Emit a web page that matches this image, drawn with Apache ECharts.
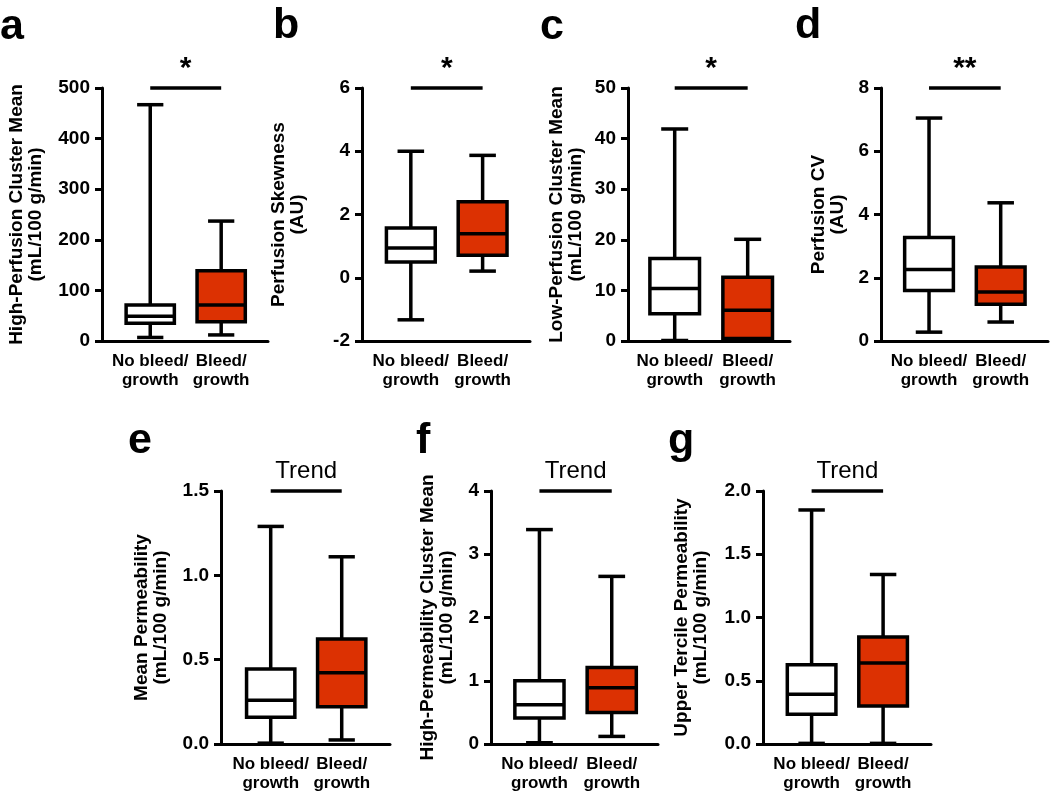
<!DOCTYPE html>
<html>
<head>
<meta charset="utf-8">
<script src="https://cdn.jsdelivr.net/npm/echarts@6/dist/echarts.min.js"></script>
<style>
  html, body { margin: 0; padding: 0; background: #fff; }
  #chart { width: 1050px; height: 794px; }
</style>
</head>
<body>
<div id="chart"></div>
<script>
// categories (x axis)
var groups = ["No bleed/\ngrowth", "Bleed/\ngrowth"];

// box stats: [min, q1, median, q3, max]
var highPerfNoBleed = [7, 35, 49, 71, 467];
var highPerfBleed = [12, 38, 71, 139, 237];
var skewNoBleed = [-1.33, 0.5, 0.94, 1.57, 4.0];
var skewBleed = [0.21, 0.71, 1.39, 2.4, 3.87];
var lowPerfNoBleed = [0.1, 5.4, 10.4, 16.3, 41.9];
var lowPerfBleed = [0.2, 0.5, 6.1, 12.6, 20.1];
var cvNoBleed = [0.28, 1.6, 2.26, 3.27, 7.05];
var cvBleed = [0.6, 1.16, 1.55, 2.34, 4.37];
var meanPermNoBleed = [0.005, 0.158, 0.26, 0.445, 1.29];
var meanPermBleed = [0.024, 0.221, 0.423, 0.623, 1.11];
var highPermNoBleed = [0.02, 0.41, 0.62, 1.0, 3.39];
var highPermBleed = [0.12, 0.5, 0.89, 1.21, 2.65];
var tercileNoBleed = [0.005, 0.235, 0.394, 0.626, 1.85];
var tercileBleed = [0.005, 0.3, 0.64, 0.846, 1.34];

// panel info
var panels = [
  { letter: "a", title: "High-Perfusion Cluster Mean\n(mL/100 g/min)", stats: [highPerfNoBleed, highPerfBleed], yMin: 0, yMax: 500, step: 100, digits: 0, sig: "*" },
  { letter: "b", title: "Perfusion Skewness\n(AU)", stats: [skewNoBleed, skewBleed], yMin: -2, yMax: 6, step: 2, digits: 0, sig: "*" },
  { letter: "c", title: "Low-Perfusion Cluster Mean\n(mL/100 g/min)", stats: [lowPerfNoBleed, lowPerfBleed], yMin: 0, yMax: 50, step: 10, digits: 0, sig: "*" },
  { letter: "d", title: "Perfusion CV\n(AU)", stats: [cvNoBleed, cvBleed], yMin: 0, yMax: 8, step: 2, digits: 0, sig: "**" },
  { letter: "e", title: "Mean Permeability\n(mL/100 g/min)", stats: [meanPermNoBleed, meanPermBleed], yMin: 0, yMax: 1.5, step: 0.5, digits: 1, sig: "Trend" },
  { letter: "f", title: "High-Permeability Cluster Mean\n(mL/100 g/min)", stats: [highPermNoBleed, highPermBleed], yMin: 0, yMax: 4, step: 1, digits: 0, sig: "Trend" },
  { letter: "g", title: "Upper Tercile Permeability\n(mL/100 g/min)", stats: [tercileNoBleed, tercileBleed], yMin: 0, yMax: 2.0, step: 0.5, digits: 1, sig: "Trend" }
];

// layout (px) and x-range of each panel
var gridPos = [
  { left: 102, top: 88, width: 166, height: 253, gap: 57, xMin: -0.68, xMax: 1.66 },
  { left: 362, top: 88, width: 168, height: 253, gap: 55, xMin: -0.68, xMax: 1.66 },
  { left: 628, top: 88, width: 162, height: 253, gap: 43, xMin: -0.64, xMax: 1.58 },
  { left: 881, top: 88, width: 167, height: 253, gap: 34, xMin: -0.67, xMax: 1.66 },
  { left: 221, top: 491, width: 169, height: 253, gap: 51, xMin: -0.70, xMax: 1.68 },
  { left: 491, top: 491, width: 167, height: 253, gap: 35, xMin: -0.67, xMax: 1.64 },
  { left: 763, top: 491, width: 168, height: 253, gap: 53, xMin: -0.68, xMax: 1.67 }
];
var letterPos = [
  { left: 0, top: 6 }, { left: 273, top: 5 }, { left: 540, top: 6 }, { left: 795, top: 5 },
  { left: 128, top: 420 }, { left: 416, top: 420 }, { left: 668, top: 420 }
];

var FONT = "'Liberation Sans', Arial, Helvetica, sans-serif";
var fills = ["#ffffff", "#dc3102"];

function renderBox(params, api) {
  var x = api.value(0);
  var pMin = api.coord([x, api.value(1)]);
  var pQ1 = api.coord([x, api.value(2)]);
  var pMed = api.coord([x, api.value(3)]);
  var pQ3 = api.coord([x, api.value(4)]);
  var pMax = api.coord([x, api.value(5)]);
  var boxW = api.size([0.68, 0])[0];
  var capW = api.size([0.37, 0])[0];
  var cx = pMed[0];
  var lw = 3.5;
  var line = function (x1, y1, x2, y2) {
    return { type: "line", shape: { x1: x1, y1: y1, x2: x2, y2: y2 }, style: { stroke: "#000", lineWidth: lw } };
  };
  return {
    type: "group",
    children: [
      line(cx, pMin[1], cx, pQ1[1]),
      line(cx, pQ3[1], cx, pMax[1]),
      line(cx - capW / 2, pMin[1], cx + capW / 2, pMin[1]),
      line(cx - capW / 2, pMax[1], cx + capW / 2, pMax[1]),
      {
        type: "rect",
        shape: { x: cx - boxW / 2, y: pQ3[1], width: boxW, height: pQ1[1] - pQ3[1] },
        style: { fill: fills[params.dataIndex], stroke: "#000", lineWidth: lw }
      },
      line(cx - boxW / 2, pMed[1], cx + boxW / 2, pMed[1])
    ]
  };
}

var grids = [], xAxes = [], yAxes = [], series = [], titles = [];
panels.forEach(function (p, i) {
  var g = gridPos[i];
  grids.push({ left: g.left, top: g.top, width: g.width, height: g.height, containLabel: false });
  xAxes.push({
    type: "value", gridIndex: i, min: g.xMin, max: g.xMax,
    axisLine: { show: true, onZero: false, lineStyle: { color: "#000", width: 3 } },
    axisTick: { show: false },
    splitLine: { show: false },
    axisLabel: {
      customValues: [0, 1],
      hideOverlap: false,
      formatter: function (v) { return groups[Math.round(v)]; },
      color: "#000", fontFamily: FONT, fontWeight: "bold", fontSize: 17, lineHeight: 19, margin: 11
    }
  });
  yAxes.push({
    type: "value", gridIndex: i, min: p.yMin, max: p.yMax, interval: p.step,
    name: p.title, nameLocation: "middle", nameGap: g.gap, nameRotate: 90,
    nameTextStyle: { color: "#000", fontFamily: FONT, fontWeight: "bold", fontSize: 19, lineHeight: 19 },
    axisLine: { show: true, onZero: false, lineStyle: { color: "#000", width: 3 } },
    axisTick: { show: true, length: 7, lineStyle: { color: "#000", width: 3 } },
    splitLine: { show: false },
    axisLabel: {
      color: "#000", fontFamily: FONT, fontWeight: "bold", fontSize: 19, margin: 12,
      formatter: (function (d) { return function (v) { return v.toFixed(d); }; })(p.digits)
    }
  });
  var isTrend = p.sig === "Trend";
  series.push({
    type: "custom", xAxisIndex: i, yAxisIndex: i,
    renderItem: renderBox,
    encode: { x: 0, y: [1, 2, 3, 4, 5] },
    data: p.stats.map(function (s, k) { return [k].concat(s); }),
    silent: true,
    markLine: {
      silent: true,
      symbol: ["none", "none"],
      lineStyle: { color: "#000", width: 3.5, type: "solid" },
      label: {
        show: true, position: "middle", formatter: p.sig, color: "#000",
        fontFamily: FONT, fontWeight: isTrend ? "normal" : "bold",
        fontSize: isTrend ? 24 : 30, distance: isTrend ? 8 : 4
      },
      data: [[{ coord: [0, p.yMax] }, { coord: [1, p.yMax] }]]
    }
  });
  titles.push({
    text: p.letter, left: letterPos[i].left, top: letterPos[i].top, padding: 0,
    textStyle: { color: "#000", fontFamily: FONT, fontWeight: "bold", fontSize: 43 }
  });
});

var chart = echarts.init(document.getElementById("chart"));
chart.setOption({
  animation: false,
  backgroundColor: "#ffffff",
  title: titles,
  grid: grids,
  xAxis: xAxes,
  yAxis: yAxes,
  series: series
});
</script>
</body>
</html>
